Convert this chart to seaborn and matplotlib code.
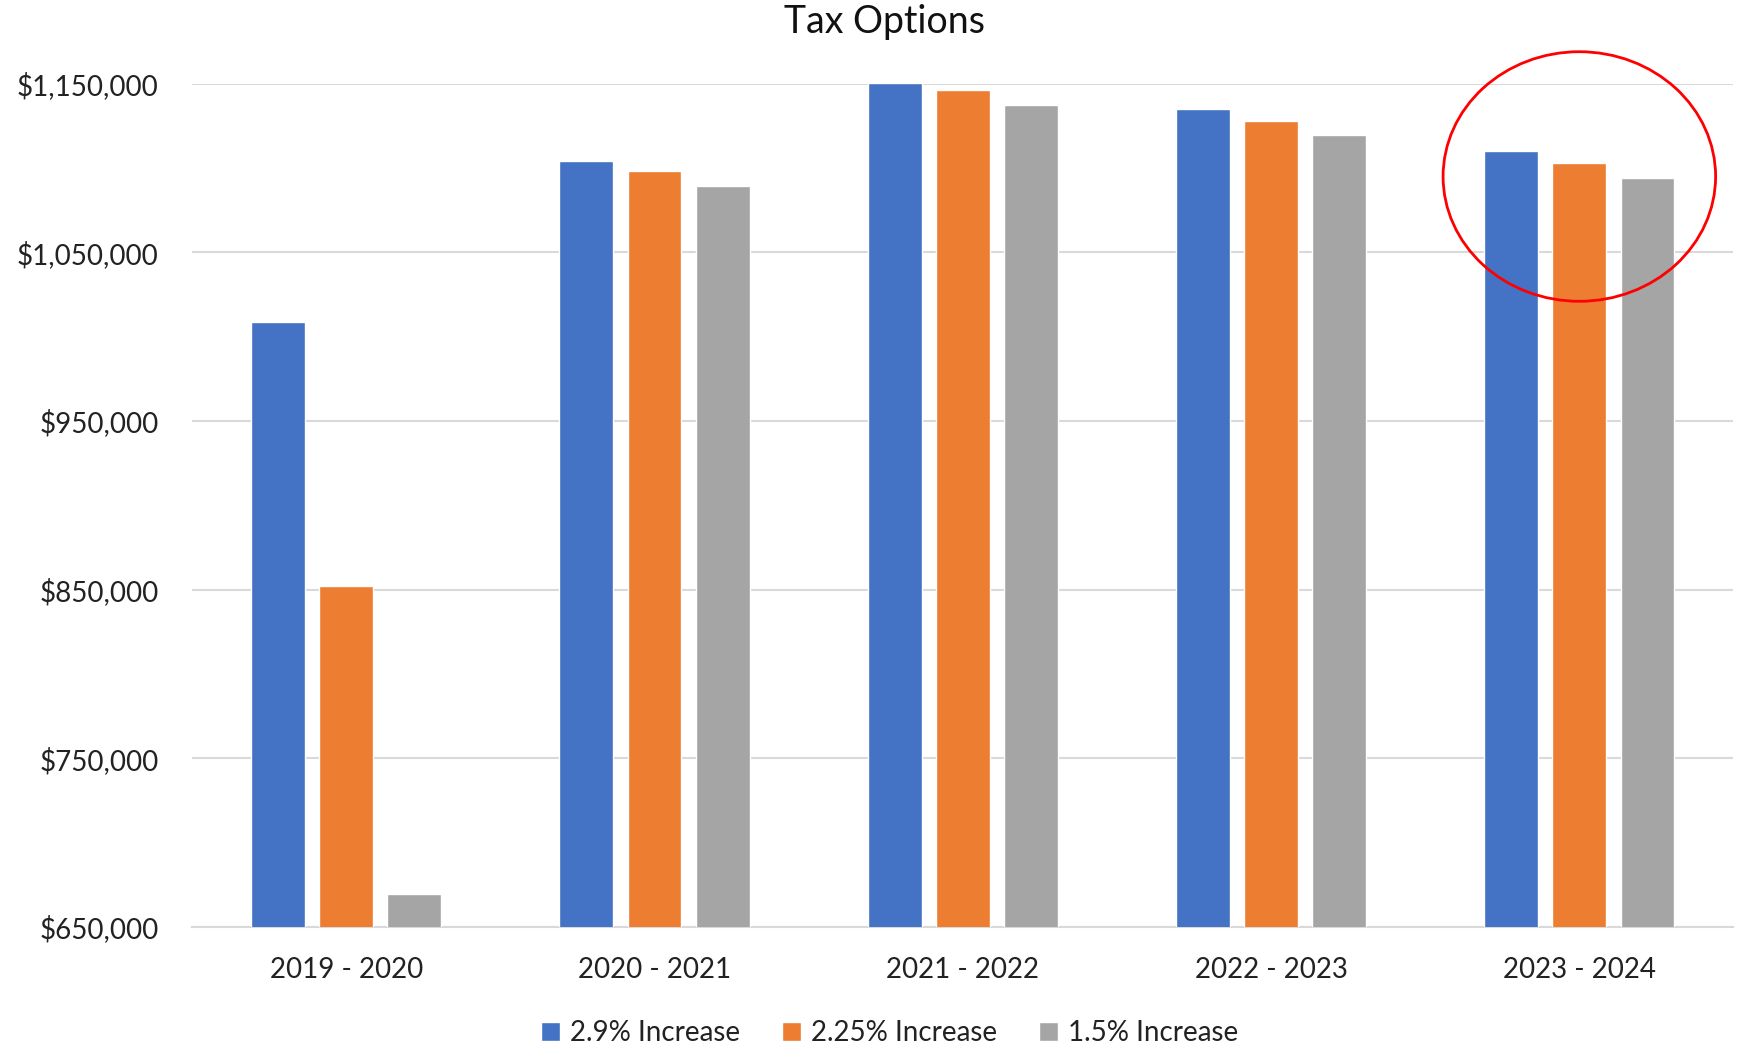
import matplotlib
matplotlib.use("Agg")
import matplotlib.pyplot as plt
from matplotlib.patches import Ellipse
from matplotlib.ticker import FuncFormatter
import seaborn as sns
import pandas as pd

years = ["2019 - 2020", "2020 - 2021", "2021 - 2022", "2022 - 2023", "2023 - 2024"]
series_names = ["2.9% Increase", "2.25% Increase", "1.5% Increase"]
inc_29 = [1008900, 1103900, 1150600, 1134800, 1110200]
inc_225 = [851900, 1098000, 1146300, 1127800, 1103200]
inc_15 = [669800, 1089200, 1137400, 1119900, 1094300]
y_ticks = [650000, 750000, 850000, 950000, 1050000, 1150000]
colors = ["#4472C4", "#ED7D31", "#A5A5A5"]

rows = []
for name, vals in zip(series_names, [inc_29, inc_225, inc_15]):
    for y, v in zip(years, vals):
        rows.append({"Year": y, "Series": name, "Value": v})
df = pd.DataFrame(rows)

sns.set_theme(style="white")
plt.rcParams["font.family"] = ["Lato", "DejaVu Sans"]

fig = plt.figure(figsize=(17.51, 10.47), dpi=100)
ax = fig.add_axes([0.1097, 0.1147, 0.8803, 0.8053])

sns.barplot(data=df, x="Year", y="Value", hue="Series", order=years,
            hue_order=series_names, palette=colors, saturation=1,
            width=0.663, gap=0.21, ax=ax, errorbar=None, zorder=3)

ax.set_ylim(y_ticks[0], y_ticks[-1])
ax.set_xlim(-0.5, 4.5)
ax.set_yticks(y_ticks)
ax.yaxis.set_major_formatter(FuncFormatter(lambda v, p: f"${v:,.0f}"))
ax.grid(axis="y", color="#D9D9D9", linewidth=1.5, zorder=0)
ax.set_axisbelow(True)
for s in ["top", "right", "left"]:
    ax.spines[s].set_visible(False)
ax.spines["bottom"].set_color("#D9D9D9")
ax.spines["bottom"].set_linewidth(1.5)
ax.tick_params(axis="y", length=0, pad=24, labelsize=20, labelcolor="#222222")
ax.tick_params(axis="x", length=0, pad=22, labelsize=20, labelcolor="#222222")
ax.set_xlabel("")
ax.set_ylabel("")

handles, labels = ax.get_legend_handles_labels()
ax.get_legend().remove()
fig.legend(handles, labels, loc="center", bbox_to_anchor=(0.508, 0.0134),
           ncol=3, frameon=False, fontsize=20, handlelength=0.7,
           handleheight=0.7, handletextpad=0.35, columnspacing=1.5,
           labelcolor="#222222")

fig.suptitle("Tax Options", x=0.505, y=0.979, fontsize=27, color="#111111", va="center")

ell = Ellipse((4, 1095000), 0.884, 148000, fill=False, edgecolor="#FF0000",
              linewidth=2.0, clip_on=False, zorder=5)
ax.add_patch(ell)

fig.savefig("out.png", dpi=100)
